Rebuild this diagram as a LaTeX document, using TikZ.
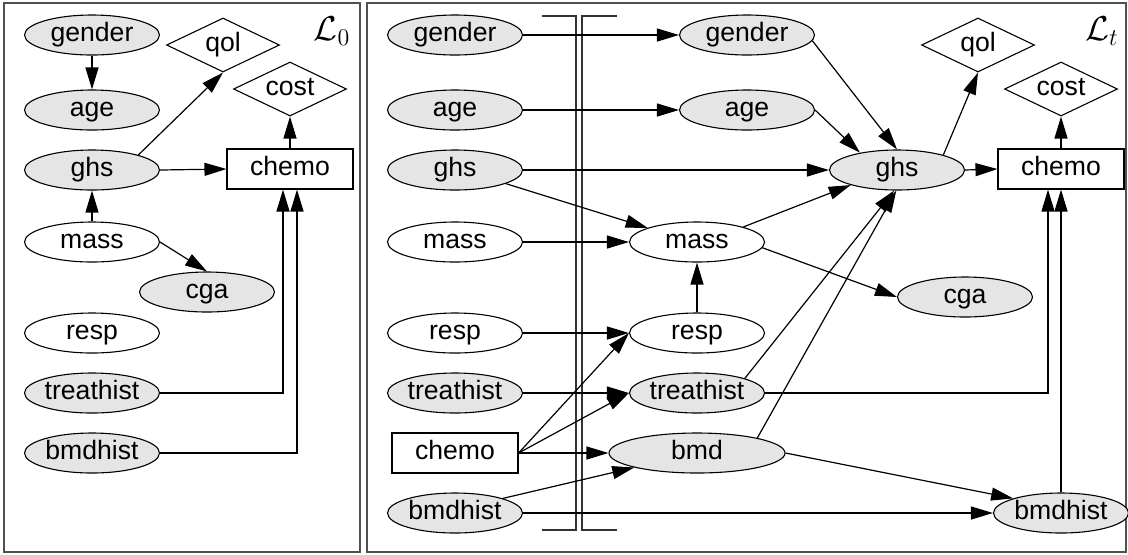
\documentclass[tikz,border=0pt]{standalone}
\usepackage{fontspec}
\setmainfont{Liberation Sans}
\usetikzlibrary{shapes.geometric,arrows.meta}
\definecolor{obsgray}{HTML}{E5E5E5}
\definecolor{framegray}{HTML}{505050}
\begin{document}
\begin{tikzpicture}[x=0.5pt,y=-0.5pt,
  lbl/.style={font=\fontsize{13.3}{16}\selectfont,text height=9.5pt,text depth=2.6pt},
  obs/.style={lbl,ellipse,draw,line width=0.55pt,fill=obsgray,minimum width=67.5pt,minimum height=20pt,inner sep=0pt},
  hid/.style={obs,fill=white},
  dec/.style={lbl,rectangle,draw,line width=0.55pt,fill=white,minimum width=63pt,minimum height=20pt,inner sep=0pt},
  util/.style={lbl,diamond,draw,line width=0.55pt,fill=white,aspect=2,minimum width=56.5pt,minimum height=27pt,inner sep=0pt},
  link/.style={draw,line width=0.6pt,-{Triangle[length=11pt,width=6.5pt]}},
  panel/.style={draw=framegray,line width=0.8pt},
  bracket/.style={draw=black!80,line width=0.7pt},
  slice/.style={font=\fontsize{18}{21}\selectfont}]
\useasboundingbox (0,0) rectangle (1128,554);

% ---------- frames ----------
\draw[panel] (4,3) rectangle (360,552);
\draw[panel] (367,3) rectangle (1126,552);
\node[slice] (L0) at (332,31) {$\mathcal{L}_0$};
\node[slice] (Lt) at (1102,31) {$\mathcal{L}_t$};

% ---------- initial slice ----------
\node[obs] (gender0) at (92,35)  {gender};
\node[obs] (age0)    at (92,110) {age};
\node[obs] (ghs0)    at (92,170) {ghs};
\node[hid] (mass0)   at (92,242) {mass};
\node[obs] (cga0)    at (207,292) {cga};
\node[hid] (resp0)   at (92,333) {resp};
\node[obs] (treat0)  at (92,393) {treathist};
\node[obs] (bmdh0)   at (92,453) {bmdhist};
\node[util] (qol0)   at (223,45) {qol};
\node[util] (cost0)  at (290,89) {cost};
\node[dec] (chemo0)  at (290,169) {chemo};

\draw[link] (gender0) -- (age0);
\draw[link] (ghs0.18) -- (qol0.south);
\draw[link] (ghs0.east) -- (chemo0.west);
\draw[link] (mass0) -- (ghs0);
\draw[link] (mass0.east) -- (cga0.north);
\draw[link] (chemo0) -- (cost0);
\draw[link] (treat0.east) -| ([xshift=-3.5pt]chemo0.south);
\draw[link] (bmdh0.east) -| ([xshift=3.5pt]chemo0.south);

% ---------- transition slice: previous step ----------
\node[obs] (gender1) at (455,35)  {gender};
\node[obs] (age1)    at (455,110) {age};
\node[obs] (ghs1)    at (455,170) {ghs};
\node[hid] (mass1)   at (455,242) {mass};
\node[hid] (resp1)   at (455,333) {resp};
\node[obs] (treat1)  at (455,393) {treathist};
\node[dec] (chemo1)  at (455,453) {chemo};
\node[obs] (bmdh1)   at (455,513) {bmdhist};

% interface brackets
\draw[bracket] (542,16) -- (576,16) -- (576,530) -- (542,530);
\draw[bracket] (617,16) -- (582,16) -- (582,530) -- (617,530);

% ---------- transition slice: current step ----------
\node[obs] (gender2) at (747,35)  {gender};
\node[obs] (age2)    at (747,110) {age};
\node[obs] (ghs2)    at (897,170) {ghs};
\node[hid] (mass2)   at (697,242) {mass};
\node[obs] (cga2)    at (965,297) {cga};
\node[hid] (resp2)   at (697,333) {resp};
\node[obs] (treat2)  at (697,393) {treathist};
\node[obs,minimum width=88pt] (bmd2) at (697,453) {bmd};
\node[obs] (bmdh2)   at (1061,513) {bmdhist};
\node[util] (qol2)   at (978,45) {qol};
\node[util] (cost2)  at (1061,89) {cost};
\node[dec] (chemo2)  at (1061,169) {chemo};

% links across the interface
\draw[link] (gender1.east) -- (gender2.west);
\draw[link] (age1.east) -- (age2.west);
\draw[link] (ghs1.east) -- (ghs2.west);
\draw[link] (ghs1.-15) -- (mass2.164);
\draw[link] (mass1.east) -- (mass2.west);
\draw[link] (resp1.east) -- (resp2.west);
\draw[link] (treat1.east) -- (treat2.west);
\draw[link] (chemo1.east) -- (resp2.west);
\draw[link] (chemo1.east) -- (treat2.west);
\draw[link] (chemo1.east) -- (bmd2.west);
\draw[link] (bmdh1.17) -- (bmd2.193);
\draw[link] (bmdh1.east) -- (bmdh2.west);

% links within the current step
\draw[link] (gender2.-5) -- (ghs2.north);
\draw[link] (age2.east) -- (ghs2.155);
\draw[link] (mass2.18) -- (ghs2.198);
\draw[link] (resp2) -- (mass2);
\draw[link] (treat2.17) -- (ghs2.262);
\draw[link] (bmd2.14) -- (ghs2.268);
\draw[link] (mass2.-5) -- (cga2.west);
\draw[link] (bmd2.east) -- (bmdh2.163);
\draw[link] (ghs2.18) -- (qol2.south);
\draw[link] (ghs2.east) -- (chemo2.west);
\draw[link] (chemo2) -- (cost2);
\draw[link] (treat2.east) -| ([xshift=-6.5pt]chemo2.south);
\draw[link] (bmdh2.north) -- (chemo2.south);
\end{tikzpicture}
\end{document}
